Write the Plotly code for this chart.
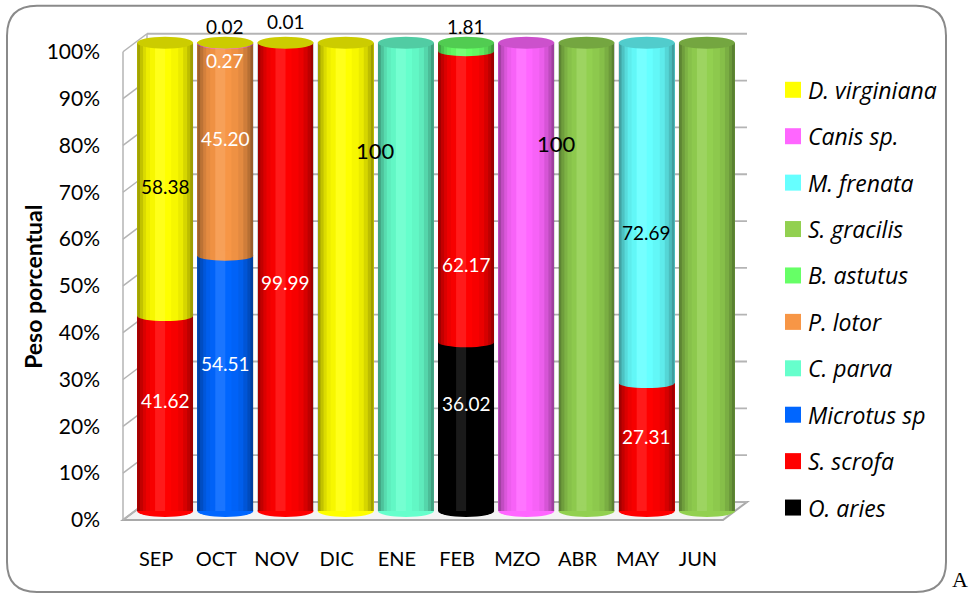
import plotly.graph_objects as go

# Monthly diet composition (percent of weight) per prey species
months = ["SEP", "OCT", "NOV", "DIC", "ENE", "FEB", "MZO", "ABR", "MAY", "JUN"]

# stacked bottom -> top
o_aries       = [0, 0, 0, 0, 0, 36.02, 0, 0, 0, 0]
s_scrofa      = [41.62, 0, 99.99, 0, 0, 62.17, 0, 0, 27.31, 0]
microtus_sp   = [0, 54.51, 0, 0, 0, 0, 0, 0, 0, 0]
c_parva       = [0, 0, 0, 0, 100, 0, 0, 0, 0, 0]
p_lotor       = [0, 45.20, 0, 0, 0, 0, 0, 0, 0, 0]
b_astutus     = [0, 0, 0, 0, 0, 1.81, 0, 0, 0, 0]
s_gracilis    = [0, 0, 0, 0, 0, 0, 0, 100, 0, 100]
m_frenata     = [0, 0, 0, 0, 0, 0, 0, 0, 72.69, 0]
canis_sp      = [0, 0.27, 0, 0, 0, 0, 100, 0, 0, 0]
d_virginiana  = [58.38, 0.02, 0.01, 100, 0, 0, 0, 0, 0, 0]

y_ticks = [0, 10, 20, 30, 40, 50, 60, 70, 80, 90, 100]
y_tick_labels = [f"{v}%" for v in y_ticks]

series = [
    ("O. aries", o_aries, "#000000"),
    ("S. scrofa", s_scrofa, "#FF0000"),
    ("Microtus sp", microtus_sp, "#0066FF"),
    ("C. parva", c_parva, "#66FFCC"),
    ("P. lotor", p_lotor, "#F79646"),
    ("B. astutus", b_astutus, "#66FF66"),
    ("S. gracilis", s_gracilis, "#92D050"),
    ("M. frenata", m_frenata, "#66FFFF"),
    ("Canis sp.", canis_sp, "#FF66FF"),
    ("D. virginiana", d_virginiana, "#FFFF00"),
]

# data labels: (month, species, label height in %, horizontal offset in slots, text colour, size)
value_labels = [
    ("SEP", "S. scrofa", 23.5, 0, "white", 19),
    ("SEP", "D. virginiana", 69.4, 0, "black", 19),
    ("OCT", "Microtus sp", 31.4, 0, "white", 19),
    ("OCT", "P. lotor", 79.5, 0, "white", 19),
    ("OCT", "Canis sp.", 96.2, 0, "white", 19),
    ("OCT", "D. virginiana", 103.4, 0, "black", 19),
    ("NOV", "S. scrofa", 48.7, 0, "white", 19),
    ("NOV", "D. virginiana", 104.5, 0, "black", 19),
    ("DIC", "D. virginiana", 76.9, 0.5, "black", 22),
    ("FEB", "O. aries", 22.9, 0, "white", 19),
    ("FEB", "S. scrofa", 52.6, 0, "white", 19),
    ("FEB", "B. astutus", 103.4, 0, "black", 19),
    ("MZO", "Canis sp.", 78.5, 0.5, "black", 22),
    ("MAY", "S. scrofa", 16.0, 0, "white", 19),
    ("MAY", "M. frenata", 59.4, 0, "black", 19),
]

FONT = "Lato"

# value axis span (extra room above/below for caps and top labels)
Y0, Y1 = -3, 107
PX_PER_UNIT = 4.68
ZERO_PX = 511

W, H = 972, 594
PL, PW = 135, 602
PT = ZERO_PX - Y1 * PX_PER_UNIT
PH = (Y1 - Y0) * PX_PER_UNIT


def xp(px):
    return (px - PL) / PW


def yp(py):
    return (PT + PH - py) / PH


def darken(hex_color, f=0.8):
    h = hex_color.lstrip("#")
    r, g, b = (int(h[i:i + 2], 16) for i in (0, 2, 4))
    return "#%02x%02x%02x" % (int(r * f), int(g * f), int(b * f))


x_idx = list(range(len(months)))
fig = go.Figure()
for name, vals, color in series:
    fig.add_trace(go.Bar(
        x=x_idx, y=vals, name=name, marker=dict(color=color, line=dict(width=0)),
        showlegend=False, hoverinfo="name+y",
    ))

shapes = []

# chart border (rounded rectangle)
bl, bt, br, bb, rad = 7, 6, 946, 592, 30
rx, ry = rad / PW, rad / PH
L, R, T, B = xp(bl), xp(br), yp(bt), yp(bb)
border = (f"M {L+rx},{T} L {R-rx},{T} Q {R},{T} {R},{T-ry} L {R},{B+ry} "
          f"Q {R},{B} {R-rx},{B} L {L+rx},{B} Q {L},{B} {L},{B+ry} "
          f"L {L},{T-ry} Q {L},{T} {L+rx},{T} Z")
shapes.append(dict(type="path", path=border, xref="paper", yref="paper",
                   line=dict(color="#8a8a8a", width=2), fillcolor="rgba(0,0,0,0)", layer="below"))

# 3-D floor
floor = (f"M {xp(123)},{yp(520)} L {xp(723)},{yp(520)} L {xp(747)},{yp(502)} "
         f"L {xp(147)},{yp(502)} Z")
shapes.append(dict(type="path", path=floor, xref="paper", yref="paper",
                   line=dict(color="#a9a9a9", width=2), fillcolor="#f4f4f4", layer="below"))

grid_col = "#b4b4b4"
# side wall edges
shapes.append(dict(type="line", xref="paper", yref="paper", x0=xp(123), x1=xp(123),
                   y0=yp(520), y1=yp(52), line=dict(color=grid_col, width=1.5), layer="below"))
shapes.append(dict(type="line", xref="paper", yref="paper", x0=xp(147), x1=xp(147),
                   y0=yp(502), y1=yp(34), line=dict(color=grid_col, width=1.5), layer="below"))
# gridlines on the back wall and the side wall
for v in y_ticks:
    shapes.append(dict(type="line", xref="paper", yref="y", ysizemode="pixel", yanchor=v,
                       x0=xp(147), x1=xp(747), y0=9, y1=9,
                       line=dict(color=grid_col, width=1.8), layer="below"))
    shapes.append(dict(type="line", xref="paper", yref="y", ysizemode="pixel", yanchor=v,
                       x0=xp(123), x1=xp(147), y0=-9, y1=9,
                       line=dict(color=grid_col, width=1.5), layer="below"))

HW = 28  # half bar width, px

for i in x_idx:
    segs = [(name, vals[i], color) for name, vals, color in series if vals[i] > 0]
    total = sum(s[1] for s in segs)
    # rounded base of the cylinder
    shapes.append(dict(type="circle", xref="x", xsizemode="pixel", xanchor=i, x0=-HW, x1=HW,
                       yref="y", ysizemode="pixel", yanchor=0, y0=-6, y1=6,
                       fillcolor=segs[0][2], line=dict(width=0), layer="above"))
    # curved boundaries between stacked segments
    cum = 0
    for k, (name, v, color) in enumerate(segs[:-1]):
        cum += v
        upper = segs[k + 1][2]
        shapes.append(dict(type="circle", xref="x", xsizemode="pixel", xanchor=i, x0=-HW, x1=HW,
                           yref="y", ysizemode="pixel", yanchor=cum, y0=-5, y1=5,
                           fillcolor=upper, line=dict(width=0), layer="above"))
    # cylinder shading
    bands = [(-28, -25, 0.36), (-25, -22, 0.24), (-22, -19, 0.14), (-19, -15, 0.07),
             (-15, -10, 0.03), (25, 28, 0.38), (22, 25, 0.26), (18, 22, 0.16),
             (13, 18, 0.08), (6, 13, 0.03)]
    for a, b, alpha in bands:
        shapes.append(dict(type="rect", xref="x", xsizemode="pixel", xanchor=i, x0=a, x1=b,
                           yref="y", y0=0, y1=total, fillcolor=f"rgba(0,0,0,{alpha})",
                           line=dict(width=0), layer="above"))
    shapes.append(dict(type="rect", xref="x", xsizemode="pixel", xanchor=i, x0=-10, x1=0,
                       yref="y", y0=0, y1=total, fillcolor="rgba(255,255,255,0.10)",
                       line=dict(width=0), layer="above"))
    # top cap
    shapes.append(dict(type="circle", xref="x", xsizemode="pixel", xanchor=i, x0=-HW, x1=HW,
                       yref="y", ysizemode="pixel", yanchor=total, y0=-6, y1=6,
                       fillcolor=darken(segs[-1][2]), line=dict(width=0), layer="above"))

annotations = []
series_vals = {name: vals for name, vals, _ in series}
for month, sp, hgt, dx, col, size in value_labels:
    i = months.index(month)
    v = series_vals[sp][i]
    txt = "100" if v == 100 else f"{v:.2f}"
    annotations.append(dict(x=i + dx, y=hgt, xref="x", yref="y", text=txt, showarrow=False,
                            xanchor="center", yanchor="middle",
                            font=dict(family=FONT, size=size, color=col)))

# legend (top series listed first)
for k, (name, vals, color) in enumerate(reversed(series)):
    cy = 90 + 46.4 * k
    shapes.append(dict(type="rect", xref="paper", yref="paper", x0=xp(785), x1=xp(801),
                       y0=yp(cy + 8), y1=yp(cy - 8), fillcolor=color, line=dict(width=0)))
    annotations.append(dict(x=xp(806), y=yp(cy), xref="paper", yref="paper", xanchor="left",
                            yanchor="middle", text=f"<i>{name}</i>", showarrow=False,
                            font=dict(family="Open Sans", size=23, color="black")))

annotations.append(dict(x=xp(33), y=yp(287), xref="paper", yref="paper", textangle=-90,
                        xanchor="center", yanchor="middle",
                        text="<b>Peso porcentual</b>", showarrow=False,
                        font=dict(family=FONT, size=23, color="black")))
annotations.append(dict(x=xp(960), y=yp(580), xref="paper", yref="paper", text="A",
                        xanchor="center", yanchor="middle",
                        showarrow=False, font=dict(family="Liberation Serif", size=22, color="black")))

fig.update_layout(
    barmode="stack", bargap=0.07,
    width=W, height=H, margin=dict(l=PL, r=W - PL - PW, t=PT, b=H - PT - PH, autoexpand=False),
    paper_bgcolor="white", plot_bgcolor="rgba(0,0,0,0)",
    shapes=shapes, annotations=annotations, showlegend=False,
    xaxis=dict(range=[-0.5, 9.5], tickvals=x_idx, ticktext=months, showgrid=False,
               zeroline=False, showline=False, ticks="", ticklabelshift=-9,
               ticklabelstandoff=20, tickfont=dict(family=FONT, size=20, color="black")),
    yaxis=dict(range=[Y0, Y1], tickvals=y_ticks, ticktext=y_tick_labels, showgrid=False,
               zeroline=False, showline=False, ticks="", ticklabelshift=9,
               ticklabelstandoff=34, tickfont=dict(family=FONT, size=21, color="black")),
)

fig.write_html("out.html")
